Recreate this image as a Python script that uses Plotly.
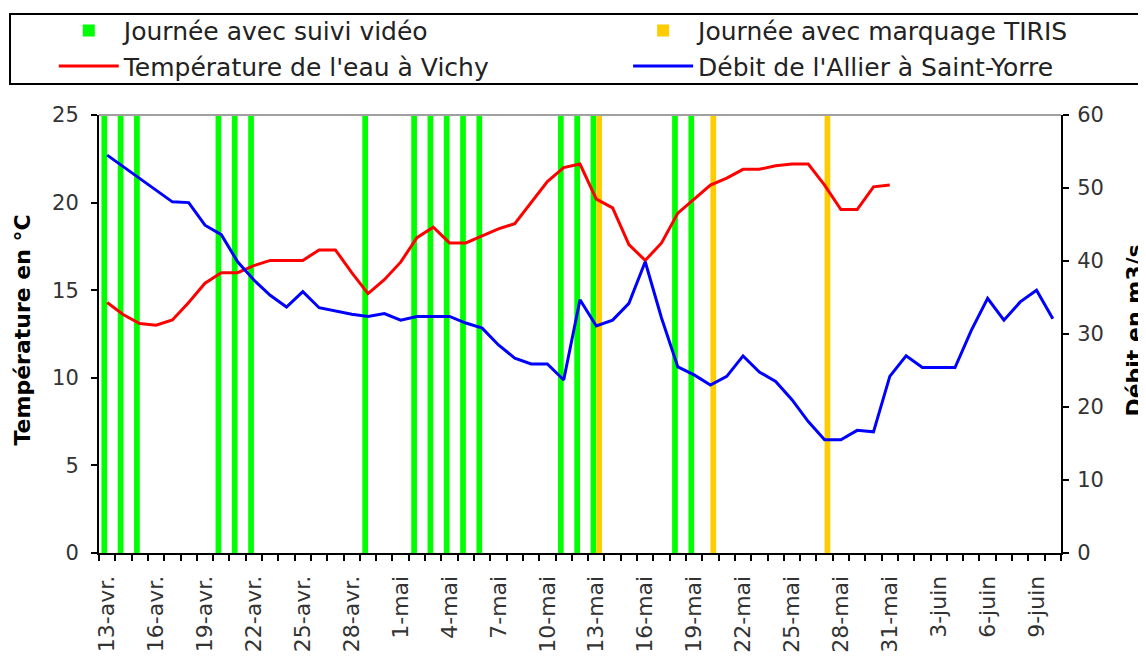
import pandas as pd
import plotly.graph_objects as go

# Jours (13 avril -> 10 juin)
dates = pd.date_range("2009-04-13", "2009-06-10", freq="D")

temperature = [14.3, 13.6, 13.1, 13.0, 13.3, 14.3, 15.4, 16.0, 16.0, 16.4,
               16.7, 16.7, 16.7, 17.3, 17.3, 16.0, 14.8, 15.6, 16.6, 18.0,
               18.6, 17.7, 17.7, 18.1, 18.5, 18.8, 20.0, 21.2, 22.0, 22.2,
               20.2, 19.7, 17.6, 16.7, 17.7, 19.4, 20.2, 21.0, 21.4, 21.9,
               21.9, 22.1, 22.2, 22.2, 21.0, 19.6, 19.6, 20.9, 21.0]

debit = [54.5, 52.9, 51.3, 49.7, 48.1, 48.0, 44.9, 43.6, 39.9, 37.4,
         35.3, 33.7, 35.8, 33.6, 33.1, 32.7, 32.4, 32.8, 31.9, 32.4,
         32.4, 32.4, 31.5, 30.8, 28.5, 26.7, 25.9, 25.9, 23.7, 34.7,
         31.1, 31.9, 34.2, 39.9, 32.2, 25.5, 24.4, 23.0, 24.2, 27.0,
         24.8, 23.5, 21.0, 18.0, 15.5, 15.5, 16.8, 16.6, 24.2, 27.0,
         25.4, 25.4, 25.4, 30.5, 34.9, 31.9, 34.4, 36.0, 32.1]

jours_video = ["2009-04-13", "2009-04-14", "2009-04-15", "2009-04-20",
               "2009-04-21", "2009-04-22", "2009-04-29", "2009-05-02",
               "2009-05-03", "2009-05-04", "2009-05-05", "2009-05-06",
               "2009-05-11", "2009-05-12", "2009-05-13", "2009-05-18",
               "2009-05-19"]
jours_tiris = ["2009-05-13", "2009-05-20", "2009-05-27"]
hauteur_barre = 25

tick_dates = ["2009-04-13", "2009-04-16", "2009-04-19", "2009-04-22",
              "2009-04-25", "2009-04-28", "2009-05-01", "2009-05-04",
              "2009-05-07", "2009-05-10", "2009-05-13", "2009-05-16",
              "2009-05-19", "2009-05-22", "2009-05-25", "2009-05-28",
              "2009-05-31", "2009-06-03", "2009-06-06", "2009-06-09"]
tick_labels = ["13-avr.", "16-avr.", "19-avr.", "22-avr.", "25-avr.",
               "28-avr.", "1-mai", "4-mai", "7-mai", "10-mai", "13-mai",
               "16-mai", "19-mai", "22-mai", "25-mai", "28-mai", "31-mai",
               "3-juin", "6-juin", "9-juin"]

FONT = "DejaVu Sans"
x_range = ["2009-04-12 12:00", "2009-06-10 12:00"]

fig = go.Figure()
fig.add_trace(go.Bar(
    x=jours_video, y=[hauteur_barre] * len(jours_video),
    name="Journée avec suivi vidéo", marker_color="#00FF00",
    marker_line_width=0, legend="legend",
))
fig.add_trace(go.Bar(
    x=jours_tiris, y=[hauteur_barre] * len(jours_tiris),
    name="Journée avec marquage TIRIS", marker_color="#FFCC00",
    marker_line_width=0, legend="legend2",
))
fig.add_trace(go.Scatter(
    x=dates[:len(temperature)], y=temperature, mode="lines",
    name="Température de l'eau à Vichy",
    line=dict(color="#FF0000", width=3), legend="legend",
))
fig.add_trace(go.Scatter(
    x=dates, y=debit, mode="lines", yaxis="y2",
    name="Débit de l'Allier à Saint-Yorre",
    line=dict(color="#0000FF", width=3), legend="legend2",
))

leg_style = dict(
    yanchor="top", y=1.245, xanchor="left",
    bgcolor="rgba(0,0,0,0)", borderwidth=0,
    font=dict(family=FONT, size=25, color="#222222"),
    itemwidth=60, traceorder="normal", tracegroupgap=0,
)

# la page html ajoute 8 px de marge autour du graphique
fig.update_layout(
    width=1146, height=668,
    margin=dict(l=91, r=93, t=107, b=123, autoexpand=False),
    plot_bgcolor="#ffffff",
    paper_bgcolor="#ffffff",
    font=dict(family=FONT, size=21, color="#333333"),
    barmode="group",
    bargap=0.3,
    showlegend=True,
    legend=dict(x=-0.047, **leg_style),
    legend2=dict(x=0.55, **leg_style),
    xaxis=dict(
        type="date", range=x_range,
        tickmode="array", tickvals=tick_dates, ticktext=tick_labels,
        tickangle=-90, ticks="", ticklabelstandoff=12,
        showgrid=False, zeroline=False,
        showline=True, linecolor="#000000", linewidth=2,
        minor=dict(tickmode="linear", tick0="2009-04-12 12:00",
                   dtick=86400000, ticks="outside", ticklen=6,
                   tickcolor="#000000", tickwidth=2, showgrid=False),
        tickfont=dict(size=22),
    ),
    xaxis2=dict(
        type="date", range=x_range, overlaying="x", anchor="y",
        tickmode="linear", tick0="2009-04-12 12:00", dtick=86400000,
        ticks="inside", ticklen=4, tickcolor="#000000", tickwidth=2,
        showticklabels=False, showgrid=False, zeroline=False,
        showline=False,
    ),
    yaxis=dict(
        range=[0, 25], dtick=5, tickmode="linear",
        ticks="outside", ticklen=6, tickcolor="#000000", tickwidth=2,
        showline=True, linecolor="#000000", linewidth=2,
        showgrid=False, zeroline=False, ticklabelstandoff=8,
        tickfont=dict(size=21),
    ),
    yaxis2=dict(
        range=[0, 60], dtick=10, tickmode="linear",
        overlaying="y", side="right", anchor="x",
        ticks="outside", ticklen=6, tickcolor="#000000", tickwidth=2,
        showline=True, linecolor="#000000", linewidth=2,
        showgrid=False, zeroline=False, ticklabelstandoff=4,
        tickfont=dict(size=21),
    ),
)

# cadre de la légende
fig.add_shape(type="rect", xref="paper", yref="paper",
              x0=-0.0925, x1=1.0925, y0=1.0708, y1=1.2306,
              line=dict(color="#000000", width=2), fillcolor="rgba(0,0,0,0)")

# bord supérieur gris de la zone de tracé
fig.add_shape(type="line", xref="paper", yref="paper", x0=0, x1=1, y0=1, y1=1,
              line=dict(color="#A0A0A0", width=2), layer="above")

# titres des axes
fig.add_annotation(text="Température en °C", textangle=-90,
                   xref="paper", yref="paper", x=-0.080, y=0.508,
                   xanchor="center", yanchor="middle", showarrow=False,
                   font=dict(family=FONT, size=22, color="#000000", weight="bold"))
fig.add_annotation(text="Débit en m3/s", textangle=-90,
                   xref="paper", yref="paper", x=1.076, y=0.508,
                   xanchor="center", yanchor="middle", showarrow=False,
                   font=dict(family=FONT, size=22, color="#000000", weight="bold"))

fig.write_html("out.html")
